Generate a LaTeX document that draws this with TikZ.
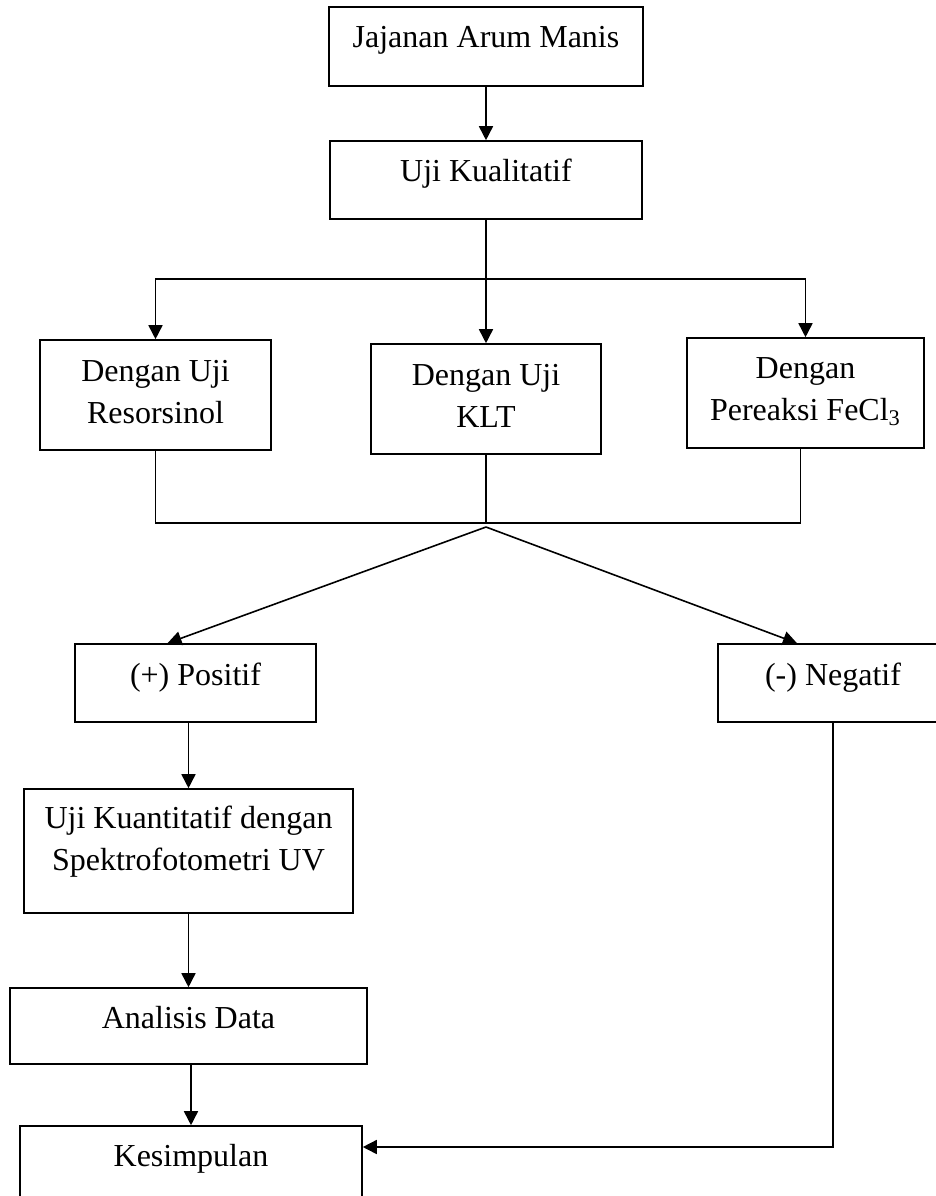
\documentclass[tikz,border=0pt]{standalone}
\usepackage{fontspec}
\setmainfont{Liberation Serif}
\usetikzlibrary{arrows.meta,positioning}

\begin{document}
\begin{tikzpicture}[x=0.5pt,y=-0.5pt,>={Triangle[length=7pt,width=7pt]},
    font=\fontsize{16}{21}\selectfont,line width=0.8pt,
    kotak/.style={draw,align=center,inner sep=0pt,text height=10pt}]
       \clip (0,0) rectangle (936,1196);
       \node [kotak,minimum width=157pt,minimum height=39.5pt,text depth=9.5pt] (jajanan) at (486,46.5) {Jajanan Arum Manis};
       \node [kotak,minimum width=156pt,minimum height=39pt,text depth=9pt] (kualitatif) at (486,180) {Uji Kualitatif};
       \node [kotak,minimum width=115.5pt,minimum height=55pt,text height=28pt,text depth=0pt] (resorsinol) at (155.5,395) {Dengan Uji\\Resorsinol};
       \node [kotak,minimum width=115pt,minimum height=55pt,text height=28pt,text depth=0pt] (klt) at (486,399) {Dengan Uji\\KLT};
       \node [kotak,minimum width=118.5pt,minimum height=55pt,text height=27pt,text depth=0pt] (fecl) at (805.5,393) {Dengan\\Pereaksi FeCl\textsubscript{3}};
       \node [kotak,minimum width=120.5pt,minimum height=39pt,text depth=8pt] (positif) at (195.5,683) {(+) Positif};
       \node [kotak,minimum width=115pt,minimum height=39pt,text depth=8pt] (negatif) at (833,683) {(-) Negatif};
       \node [kotak,minimum width=164.5pt,minimum height=62pt,text height=19pt,text depth=0pt] (kuantitatif) at (188.5,851) {Uji Kuantitatif dengan\\Spektrofotometri UV};
       \node [kotak,minimum width=178.5pt,minimum height=38pt,text depth=8pt] (analisis) at (188.5,1026) {Analisis Data};
       \node [kotak,minimum width=171pt,minimum height=39pt,text depth=9pt] (kesimpulan) at (191,1165) {Kesimpulan};
       \coordinate (atas) at (486,279);
       \coordinate (bawah) at (486,523);
       \coordinate (puncak) at (486,527);
        \path[->]
        (jajanan.south) edge (kualitatif.north)
        (atas) edge (klt.north)
        (puncak) edge ([xshift=-14pt]positif.north)
              edge ([xshift=-18pt]negatif.north)
        (positif.south -| kuantitatif.north) edge (kuantitatif.north)
        (kuantitatif.south) edge (analisis.north)
        (analisis.south -| kesimpulan.north) edge (kesimpulan.north);
        \draw (kualitatif.south) -- (atas);
        \draw[->] (atas) -| (resorsinol.north);
        \draw[->] (atas) -| (fecl.north);
        \draw (resorsinol.south) |- (bawah);
        \draw (klt.south) -- (bawah);
        \draw ([xshift=-2.5pt]fecl.south) |- (bawah);
        \draw[->] (negatif.south) |- ([yshift=9pt]kesimpulan.east);
    \end{tikzpicture}
\end{document}
